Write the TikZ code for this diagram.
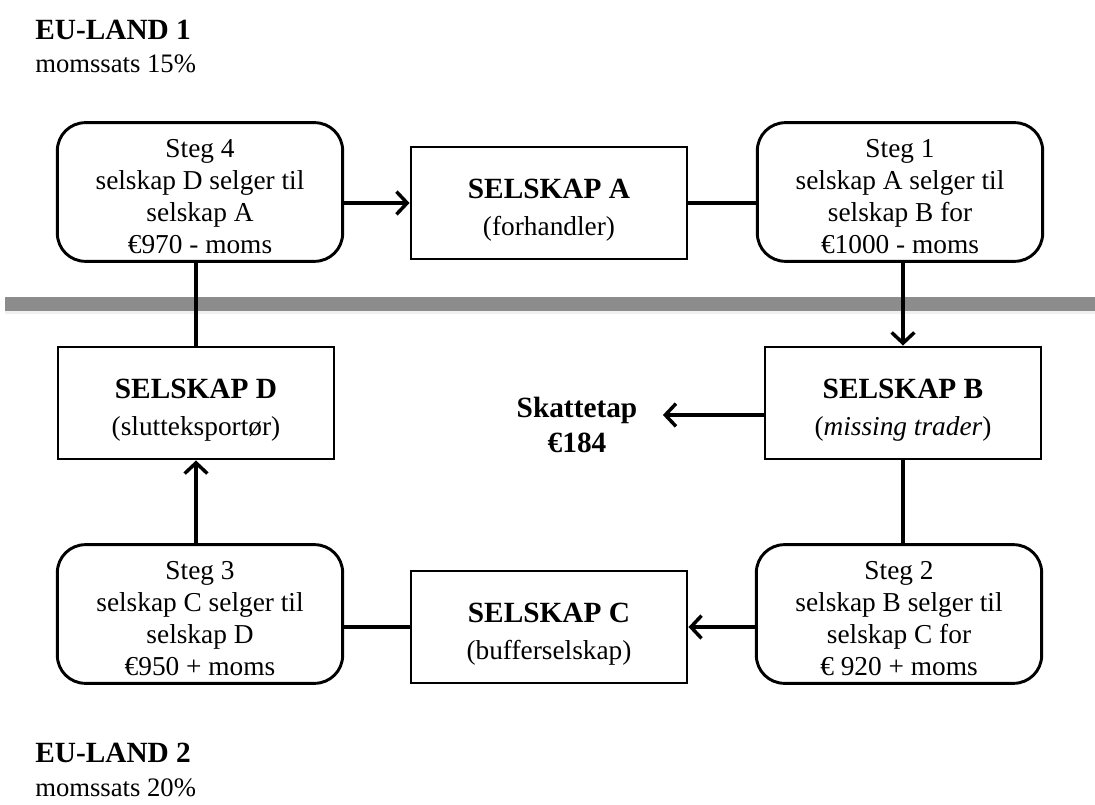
\documentclass[tikz,border=0pt]{standalone}
\usepackage{fontspec}
\setmainfont{Liberation Serif}
\usetikzlibrary{arrows.meta}
% extra height on a first line, pushes a block of text slightly down
\newcommand\lowerby[1]{\rule{0pt}{#1}}
\begin{document}
\begin{tikzpicture}[x=0.75pt,y=-0.75pt,
  stepbox/.style={draw,line width=2.2pt,rounded corners=21pt,align=center,
    minimum width=214pt,minimum height=104pt,inner sep=0pt,
    font=\fontsize{20.5}{24}\selectfont},
  firm/.style={draw,line width=2.2pt,align=center,
    minimum width=207pt,minimum height=84pt,inner sep=0pt,
    font=\fontsize{20.5}{28}\selectfont},
  link/.style={line width=2.8pt},
  arr/.style={link,-{Straight Barb[length=8pt,width=17pt,line width=2.6pt]}},
  title/.style={font=\bfseries\fontsize{22}{26}\selectfont},
  land/.style={anchor=north west,align=left,inner sep=0pt,
    font=\fontsize{20}{25}\selectfont}]
\useasboundingbox (0,0) rectangle (1095,805);

% border between the two countries
\fill[black!6] (5,300) rectangle (1095,314);
\fill[black!45] (5,297) rectangle (1095,311);

% country labels
\node[land] (eu1) at (35,20) {{\bfseries\fontsize{22}{25}\selectfont EU-LAND 1}\\momssats 15\%};
\node[land] (eu2) at (35,743) {{\bfseries\fontsize{22}{25}\selectfont EU-LAND 2}\\momssats 20\%};

% trading steps
\node[stepbox] (s4) at (200,192) {\lowerby{21pt}Steg 4\\selskap D selger til\\selskap A\\€970 - moms};
\node[stepbox] (s1) at (900,192) {\lowerby{21pt}Steg 1\\selskap A selger til\\selskap B for\\€1000 - moms};
\node[stepbox] (s3) at (200,614) {\lowerby{21pt}Steg 3\\selskap C selger til\\selskap D\\€950 + moms};
\node[stepbox] (s2) at (899,614) {\lowerby{21pt}Steg 2\\selskap B selger til\\selskap C for\\€ 920 + moms};

% companies
\node[firm] (A) at (549,203) {\lowerby{25pt}\textbf{\fontsize{22}{28}\selectfont SELSKAP A}\\(forhandler)};
\node[firm] (D) at (196,403) {\lowerby{25pt}\textbf{\fontsize{22}{28}\selectfont SELSKAP D}\\(slutteksportør)};
\node[firm] (B) at (903,403) {\lowerby{25pt}\textbf{\fontsize{22}{28}\selectfont SELSKAP B}\\(\textit{missing trader})};
\node[firm] (C) at (549,627) {\lowerby{25pt}\textbf{\fontsize{22}{28}\selectfont SELSKAP C}\\(bufferselskap)};

% tax loss
\node[title,align=center,inner sep=0pt] (tax) at (577,425) {Skattetap\\€184};

% flow of goods
\draw[arr] (s4.east |- A.west) -- (A.west);
\draw[link] (A.east) -- (A.east -| s1.west);
\draw[arr] (B.north |- s1.south) -- (B.north);
\draw[link] (D.north |- s4.south) -- (D.north);
\draw[arr] ([yshift=-9pt]B.west) -- ([yshift=-9pt,xshift=19pt]B.west -| tax.east);
\draw[link] (B.south) -- (B.south |- s2.north);
\draw[arr] (s2.west |- C.east) -- (C.east);
\draw[link] (s3.east |- C.west) -- (C.west);
\draw[arr] (D.south |- s3.north) -- (D.south);
\end{tikzpicture}
\end{document}
